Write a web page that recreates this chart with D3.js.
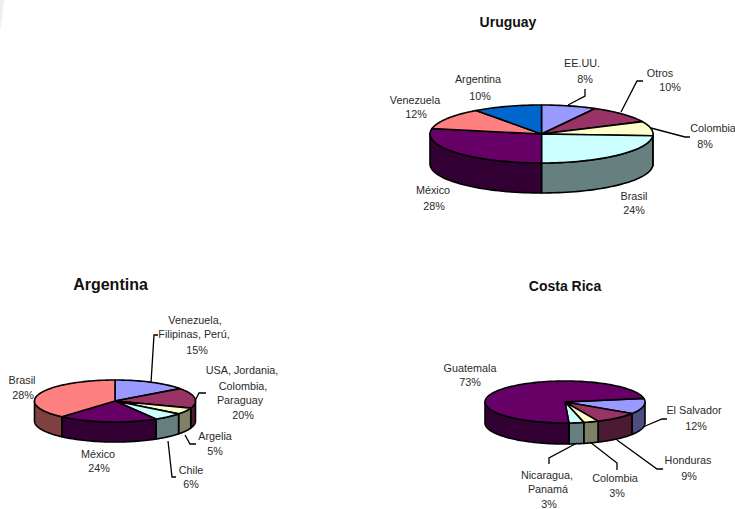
<!DOCTYPE html>
<html>
<head>
<meta charset="utf-8">
<script src="https://cdn.jsdelivr.net/npm/d3@7"></script>
<style>
html, body { margin: 0; padding: 0; background: #fff; }
text { font-family: "Liberation Sans", Arial, sans-serif; fill: #2a2a2a; }
</style>
</head>
<body>
<div id="chart"></div>
<script>
var uruguayNames = [["EE.UU."], ["Otros"], ["Colombia"], ["Brasil"], ["México"], ["Venezuela"], ["Argentina"]];
var uruguayPercents = [8, 10, 8, 24, 28, 12, 10];
var uruguayValues = [8, 10, 8, 24, 28, 12, 10];
var uruguayColors = ["#9999ff", "#993366", "#ffffcc", "#ccffff", "#660066", "#ff8080", "#0066cc"];

var argentinaNames = [["Venezuela,", "Filipinas, Perú,"], ["USA, Jordania,", "Colombia,", "Paraguay"], ["Argelia"], ["Chile"], ["México"], ["Brasil"]];
var argentinaPercents = [15, 20, 5, 6, 24, 28];
// the drawn slices do not follow the printed percentages here, so these are read off the pie
var argentinaValues = [15, 15.5, 5, 6, 20, 38.5];
var argentinaColors = ["#9999ff", "#993366", "#ffffcc", "#ccffff", "#660066", "#ff8080"];

var costaRicaNames = [["El Salvador"], ["Honduras"], ["Colombia"], ["Nicaragua,", "Panamá"], ["Guatemala"]];
var costaRicaPercents = [12, 9, 3, 3, 73];
var costaRicaValues = [12, 9, 3, 3, 73];
var costaRicaColors = ["#9999ff", "#993366", "#ffffcc", "#ccffff", "#660066"];

var width = 735, height = 509;

var svg = d3.select("#chart")
    .append("svg")
    .attr("width", width)
    .attr("height", height)
    .style("display", "block");

// faint grey sliver in the top left corner
svg.append("path")
    .attr("d", "M0,0L4,0L0,32Z")
    .attr("fill", "#eeeeee");

// turn an angle (clockwise from 12 o'clock) into a point of the flattened circle
function rim(p, a) {
    return [p.cx + p.rx * Math.sin(a), p.cy - p.ry * Math.cos(a)];
}

// walls are the top colour at half strength
function sideColor(c) {
    var r = d3.rgb(c);
    return d3.rgb(r.r / 2, r.g / 2, r.b / 2).formatHex();
}

function drawPie(p, values, colors, names, percents) {
    var g = svg.append("g");

    var pie = d3.pie()
        .sort(null)
        .startAngle(p.start)
        .endAngle(p.start + 2 * Math.PI);
    var slices = pie(values);

    var line = d3.line();

    // walls go first, only the part of each slice that faces the viewer
    slices.forEach(function(s, i) {
        var ranges = [[Math.PI / 2, 3 * Math.PI / 2], [5 * Math.PI / 2, 7 * Math.PI / 2]];
        ranges.forEach(function(r) {
            var a0 = Math.max(s.startAngle, r[0]);
            var a1 = Math.min(s.endAngle, r[1]);
            if (a1 <= a0) return;
            var top = d3.range(0, 41).map(function(k) {
                return rim(p, a0 + (a1 - a0) * k / 40);
            });
            var bottom = top.slice().reverse().map(function(q) {
                return [q[0], q[1] + p.depth];
            });
            g.append("path")
                .attr("d", line(top.concat(bottom)) + "Z")
                .attr("fill", sideColor(colors[i]))
                .attr("stroke", "#000")
                .attr("stroke-width", 1.6)
                .attr("stroke-linejoin", "round");
        });
    });

    // top faces
    slices.forEach(function(s, i) {
        var n = Math.max(4, Math.ceil((s.endAngle - s.startAngle) * 30));
        var pts = [[p.cx, p.cy]].concat(d3.range(0, n + 1).map(function(k) {
            return rim(p, s.startAngle + (s.endAngle - s.startAngle) * k / n);
        }));
        g.append("path")
            .attr("d", line(pts) + "Z")
            .attr("fill", colors[i])
            .attr("stroke", "#000")
            .attr("stroke-width", 1.6)
            .attr("stroke-linejoin", "round");
    });

    g.selectAll("path.leader")
        .data(p.leaders)
        .enter()
        .append("path")
        .attr("class", "leader")
        .attr("d", function(d) { return line(d); })
        .attr("fill", "none")
        .attr("stroke", "#000")
        .attr("stroke-width", 1.3);

    g.append("text")
        .attr("x", p.title[0])
        .attr("y", p.title[1])
        .attr("text-anchor", "middle")
        .style("font-size", p.title[2] + "px")
        .style("font-weight", "bold")
        .style("fill", "#111")
        .text(p.title[3]);

    // each slice label is its name lines with the percent as last line
    names.forEach(function(lines, i) {
        lines.concat([percents[i] + "%"]).forEach(function(t, j) {
            g.append("text")
                .attr("x", p.labels[i][j][0])
                .attr("y", p.labels[i][j][1])
                .attr("text-anchor", "middle")
                .style("font-size", "10.8px")
                .text(t);
        });
    });
}

drawPie({
    cx: 541.5, cy: 134, rx: 111.5, ry: 29, depth: 30, start: 0,
    title: [508, 27, 14, "Uruguay"],
    leaders: [
        [[568, 105], [585, 96], [585, 89]],
        [[621, 112], [637, 81], [643, 81]],
        [[651, 128], [685, 137], [690, 137]]
    ],
    labels: [
        [[582, 67], [585, 83]],
        [[660, 77], [670, 91]],
        [[713, 132], [705, 148]],
        [[634, 200], [634, 214]],
        [[433, 194], [434, 210]],
        [[415, 104], [416, 118]],
        [[478, 83], [480, 100]]
    ]
}, uruguayValues, uruguayColors, uruguayNames, uruguayPercents);

drawPie({
    cx: 115, cy: 401, rx: 80.5, ry: 21, depth: 20, start: 0,
    title: [110.5, 290, 16, "Argentina"],
    leaders: [
        [[151, 383], [154, 335], [158, 335]],
        [[195, 401], [199, 393], [206, 393]],
        [[185, 435], [190, 444], [196, 444]],
        [[168, 441], [172, 477], [176, 477]]
    ],
    labels: [
        [[195, 324], [194, 338], [197, 354]],
        [[242, 374], [243, 390], [240, 404], [243, 419]],
        [[215, 440], [215, 455]],
        [[191, 474], [191, 488]],
        [[98, 458], [99, 472]],
        [[22, 384], [23, 399]]
    ]
}, argentinaValues, argentinaColors, argentinaNames, argentinaPercents);

drawPie({
    cx: 565, cy: 402, rx: 80, ry: 21, depth: 21, start: 80 * Math.PI / 180,
    title: [565, 290.5, 14, "Costa Rica"],
    leaders: [
        [[643, 427], [662, 419], [667, 419]],
        [[617, 440], [657, 469], [663, 469]],
        [[590, 442], [617, 463], [617, 470]],
        [[577, 443], [549, 458], [549, 464]]
    ],
    labels: [
        [[694, 414], [696, 430]],
        [[688, 464], [689, 480]],
        [[615, 482], [617, 497]],
        [[547, 479], [548, 493], [549, 508]],
        [[470, 372], [470, 386]]
    ]
}, costaRicaValues, costaRicaColors, costaRicaNames, costaRicaPercents);
</script>
</body>
</html>
